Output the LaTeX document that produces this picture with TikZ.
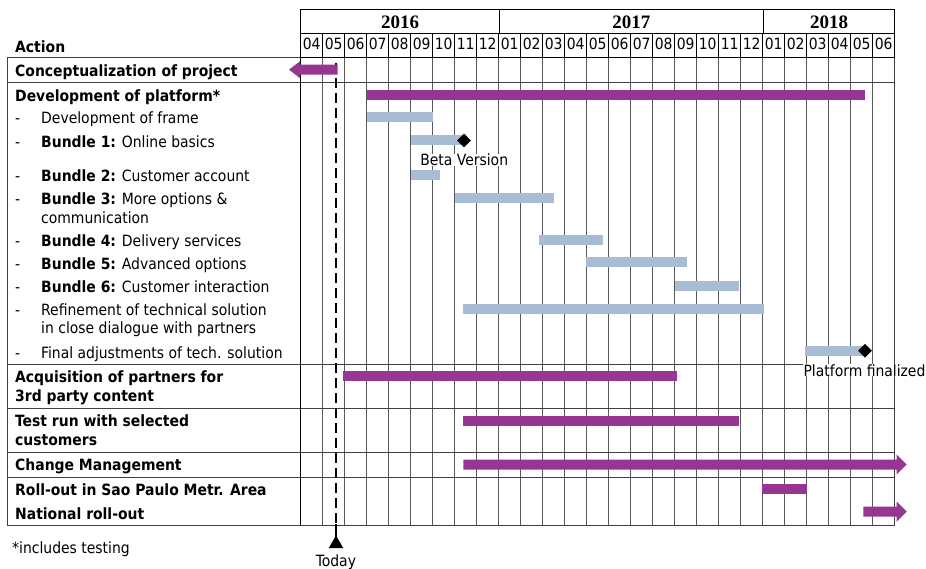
\documentclass[tikz,border=0pt]{standalone}
\usepackage{fontspec}
\setmainfont{DejaVu Sans Condensed}
\newfontfamily\yearfont{Liberation Serif}
\usetikzlibrary{shapes.geometric}
\definecolor{plum}{RGB}{150,54,146}
\definecolor{steel}{RGB}{169,188,214}

% left edge of month column k (0 = 04/2016)
\newcommand\colx[1]{300.7+22*#1}
% a plain bar: start x, end x, centre y, colour
\newcommand\ganttbar[4]{\fill[#4] (#1,#3-5) rectangle (#2,#3+5);}
% a bar ending in an arrow head pointing right: start x, tip x, centre y
\newcommand\rightarrowbar[3]{\fill[plum] (#1,#3-5) -- (#2-10,#3-5) -- (#2-10,#3-10) -- (#2,#3) -- (#2-10,#3+10) -- (#2-10,#3+5) -- (#1,#3+5) -- cycle;}

\begin{document}
\begin{tikzpicture}[x=1pt,y=-1pt,
  txt/.style={inner sep=0pt, font=\fontsize{15.5}{18}\selectfont, text=black},
  lbl/.style={txt, anchor=base west},
  hdrline/.style={black, line width=1pt},
  gridline/.style={black!65, line width=1.1pt},
  rowline/.style={black!75, line width=1pt},
  milestone/.style={diamond, fill=black, minimum width=14pt, minimum height=14pt, inner sep=0pt},
  tag/.style={txt, anchor=base, fill=white, inner xsep=1pt, inner ysep=0pt}]
\useasboundingbox (0,0) rectangle (926,569);

% ---- month grid in the chart body
\foreach \k in {1,...,26}
  \draw[gridline] ({\colx{\k}},57.3) -- ({\colx{\k}},525);

% ---- header: years and months
\draw[hdrline] (300.7,10) rectangle (894.7,57.3);
\draw[hdrline] (300.7,33.3) -- (894.7,33.3);
\draw[hdrline] (499.3,10) -- (499.3,33.3);
\draw[hdrline] (763.3,10) -- (763.3,33.3);
\foreach \k in {1,...,26}
  \draw[hdrline] ({\colx{\k}},33.3) -- ({\colx{\k}},57.3);
\node[anchor=base, inner sep=0pt, font=\yearfont\bfseries\fontsize{19}{20}\selectfont] (y16) at (400,28.3) {2016};
\node[anchor=base, inner sep=0pt, font=\yearfont\bfseries\fontsize{19}{20}\selectfont] (y17) at (631.3,28.3) {2017};
\node[anchor=base, inner sep=0pt, font=\yearfont\bfseries\fontsize{19}{20}\selectfont] (y18) at (829,28.3) {2018};
\foreach \m [count=\k from 0] in {04,05,06,07,08,09,10,11,12,01,02,03,04,05,06,07,08,09,10,11,12,01,02,03,04,05,06}
  \node[txt, anchor=base] (m\k) at ({\colx{\k}+11},50) {\m};

% ---- row frame
\draw[rowline] (7.3,57.3) -- (300.7,57.3);
\foreach \y in {82.7,364,408.3,452.7,477.3,525}
  \draw[rowline] (7.3,\y) -- (894.7,\y);
\draw[rowline] (7.3,57.3) -- (7.3,525);
\draw[rowline] (894.7,57.3) -- (894.7,525);
\draw[hdrline] (300.7,10) -- (300.7,525);

% ---- milestone captions (white boxes over the grid)
\node[tag] (betatxt) at (464.2,166) {Beta Version};
\node[tag] (finaltxt) at (864.5,376) {Platform finalized};

% ---- action labels
\node[lbl, font=\bfseries\fontsize{15.5}{18}\selectfont] (action) at (15,52.3) {Action};
\node[lbl, font=\bfseries\fontsize{15.5}{18}\selectfont] (concept) at (15,76.5) {Conceptualization of project};
\node[lbl, font=\bfseries\fontsize{15.5}{18}\selectfont] (devplat) at (15,101.7) {Development of platform*};
\foreach \n/\y/\t in {a/124/{Development of frame},
                      b/147.6/{\textbf{Bundle 1:} Online basics},
                      c/181.8/{\textbf{Bundle 2:} Customer account},
                      d/204.4/{\textbf{Bundle 3:} More options \&},
                      e/246.8/{\textbf{Bundle 4:} Delivery services},
                      f/270/{\textbf{Bundle 5:} Advanced options},
                      g/292.7/{\textbf{Bundle 6:} Customer interaction},
                      h/316/{Refinement of technical solution},
                      i/358.2/{Final adjustments of tech. solution}}
  {\node[lbl] (dash\n) at (15,\y) {-};
   \node[lbl] (sub\n) at (41,\y) {\t};}
\node[lbl] (subd2) at (41,224) {communication};
\node[lbl] (subh2) at (41,334) {in close dialogue with partners};
\node[lbl, font=\bfseries\fontsize{15.5}{18}\selectfont] (acq1) at (15,382.7) {Acquisition of partners for};
\node[lbl, font=\bfseries\fontsize{15.5}{18}\selectfont] (acq2) at (15,401.7) {3rd party content};
\node[lbl, font=\bfseries\fontsize{15.5}{18}\selectfont] (test1) at (15,426.7) {Test run with selected};
\node[lbl, font=\bfseries\fontsize{15.5}{18}\selectfont] (test2) at (15,445) {customers};
\node[lbl, font=\bfseries\fontsize{15.5}{18}\selectfont] (change) at (15,470.7) {Change Management};
\node[lbl, font=\bfseries\fontsize{15.5}{18}\selectfont] (rollsp) at (15,495.7) {Roll-out in Sao Paulo Metr. Area};
\node[lbl, font=\bfseries\fontsize{15.5}{18}\selectfont] (rollnat) at (15,519.3) {National roll-out};
\node[lbl] (note) at (12,553.5) {*includes testing};

% ---- today marker
\draw[black, line width=1.8pt, dash pattern=on 10pt off 5pt] (336,63) -- (336,525);
\draw[black, line width=1.8pt] (336,524) -- (336,538);
\fill[black] (336,535.5) -- (343.2,548) -- (328.8,548) -- cycle;
\node[txt, anchor=base] (today) at (336,566) {Today};

% ---- bars
\fill[plum] (337.7,64.7) -- (300,64.7) -- (300,61.2) -- (289,69.7) -- (300,78.2) -- (300,74.7) -- (337.7,74.7) -- cycle;
\ganttbar{366.7}{865}{94.7}{plum}
\ganttbar{366.7}{433.3}{117.2}{steel}
\ganttbar{410.7}{462}{140.3}{steel}
\ganttbar{410.7}{440}{174.7}{steel}
\ganttbar{455}{554.3}{198}{steel}
\ganttbar{539.3}{602.7}{240}{steel}
\ganttbar{585.7}{686.7}{262.5}{steel}
\ganttbar{674.7}{739}{286}{steel}
\ganttbar{463.3}{764}{309.2}{steel}
\ganttbar{805}{865}{351}{steel}
\ganttbar{343.3}{676.7}{376}{plum}
\ganttbar{463.3}{739}{420.5}{plum}
\rightarrowbar{463.3}{906.7}{464.5}
\ganttbar{762.3}{806.7}{488.7}{plum}
\rightarrowbar{863.3}{906.7}{511.7}

% ---- milestones
\node[milestone] (beta) at (464,140.5) {};
\node[milestone] (final) at (865,350.7) {};
\end{tikzpicture}
\end{document}
